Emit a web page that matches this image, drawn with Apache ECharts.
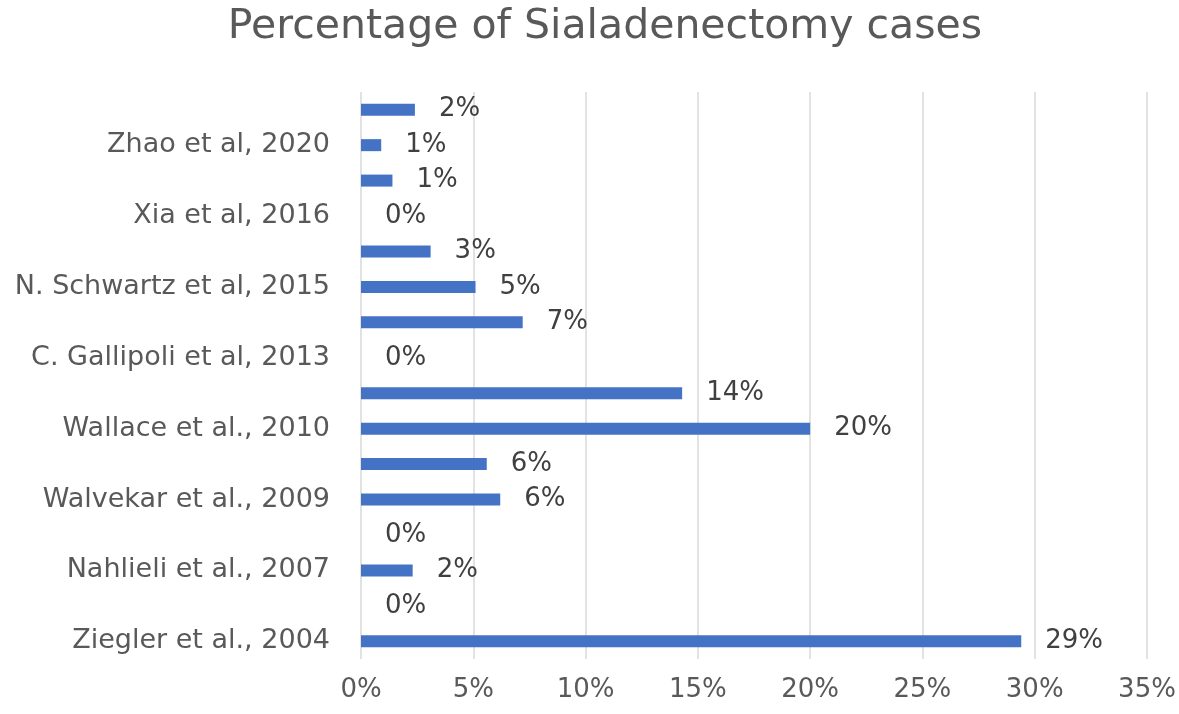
<!DOCTYPE html>
<html>
<head>
<meta charset="utf-8">
<script src="https://cdn.jsdelivr.net/npm/echarts@6/dist/echarts.min.js"></script>
<style>html,body{margin:0;padding:0;background:#fff;}#chart{width:1179px;height:714px;}</style>
</head>
<body>
<div id="chart"></div>
<script>
// Categories bottom to top (every other label is hidden in the original)
const categories = [
  'Ziegler et al., 2004', '',
  'Nahlieli et al., 2007', '',
  'Walvekar et al., 2009', '',
  'Wallace et al., 2010', '',
  'C. Gallipoli et al, 2013', '',
  'N. Schwartz et al, 2015', '',
  'Xia et al, 2016', '',
  'Zhao et al, 2020', ''
];
// Percentages (bottom to top)
const values = [29.4, 0, 2.3, 0, 6.2, 5.6, 20.0, 14.3, 0, 7.2, 5.1, 3.1, 0, 1.4, 0.9, 2.4];
const xTicks = [0, 5, 10, 15, 20, 25, 30, 35];
const titleText = 'Percentage of Sialadenectomy cases';

const chart = echarts.init(document.getElementById('chart'), null, {renderer: 'canvas'});
const font = "'DejaVu Sans', 'Open Sans', sans-serif";
chart.setOption({
  animation: false,
  backgroundColor: '#ffffff',
  title: {
    text: titleText,
    left: 600,
    textAlign: 'center',
    top: 2,
    textStyle: {fontFamily: font, fontSize: 41, fontWeight: 'normal', color: '#595959'}
  },
  grid: {left: 361, right: 32, top: 92, bottom: 55, containLabel: false},
  xAxis: {
    type: 'value',
    min: xTicks[0],
    max: xTicks[xTicks.length - 1],
    interval: 5,
    axisLine: {show: false},
    axisTick: {show: false},
    splitLine: {lineStyle: {color: '#d9d9d9', width: 1.5}},
    axisLabel: {fontFamily: font, fontSize: 26, color: '#595959', margin: 18, formatter: v => v + '%'}
  },
  yAxis: {
    type: 'category',
    data: categories,
    axisLine: {show: false},
    axisTick: {show: false},
    axisLabel: {interval: 0, fontFamily: font, fontSize: 27, color: '#595959', margin: 31}
  },
  series: [{
    type: 'bar',
    data: values,
    barWidth: 12,
    itemStyle: {color: '#4472C4'},
    label: {
      show: true,
      position: 'right',
      distance: 24,
      fontFamily: font,
      fontSize: 26,
      color: '#404040',
      formatter: p => Math.round(p.value) + '%'
    }
  }]
});
</script>
</body>
</html>
